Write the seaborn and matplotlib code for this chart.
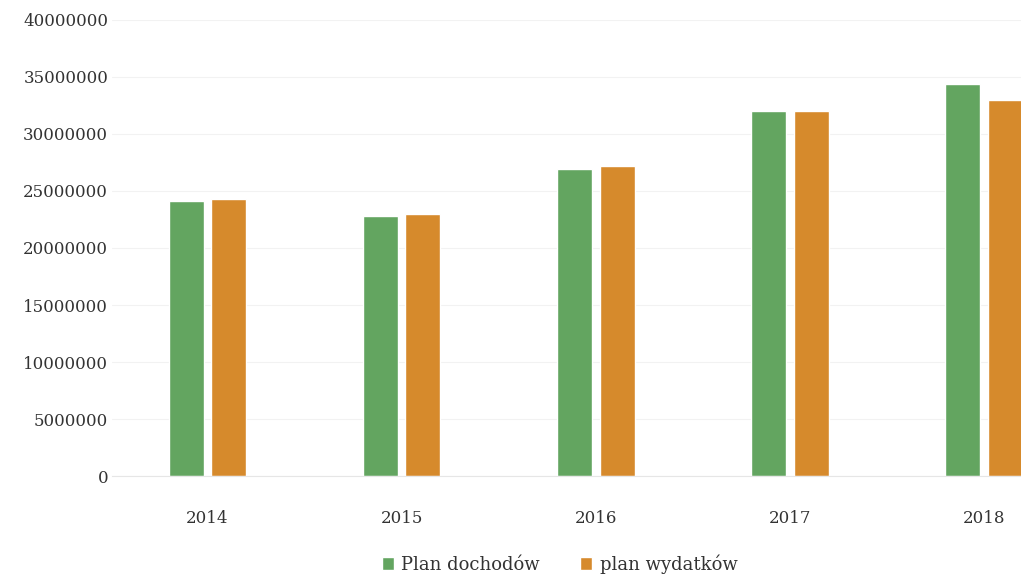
import pandas as pd
import matplotlib.pyplot as plt
import seaborn as sns

# Values (PLN)
years = ['2014', '2015', '2016', '2017', '2018']
plan_dochodow = [24100000, 22800000, 26900000, 32000000, 34400000]
plan_wydatkow = [24300000, 23000000, 27200000, 32000000, 33000000]
series_names = ['Plan dochodów', 'plan wydatków']
colors = ['#63a560', '#d68a2c']

df = pd.DataFrame({
    'rok': years * 2,
    'kwota': plan_dochodow + plan_wydatkow,
    'seria': [series_names[0]] * len(years) + [series_names[1]] * len(years),
})

sns.set_style('white')
plt.rcParams['font.family'] = ['DejaVu Serif']

fig = plt.figure(figsize=(10.21, 5.8), dpi=100)
ax = fig.add_axes([0.11, 0.179, 0.89, 0.787])

sns.barplot(data=df, x='rok', y='kwota', hue='seria', palette=colors,
            width=0.44, gap=0.18, ax=ax, saturation=1, legend=True)

ax.set_ylim(0, 40000000)
ax.set_xlim(-0.49, 4.19)
ax.set_yticks(range(0, 40000001, 5000000))
ax.set_yticklabels([str(v) for v in range(0, 40000001, 5000000)])
ax.yaxis.grid(True, color='#f2f2f2', linewidth=0.8)
ax.set_axisbelow(True)
for s in ['top', 'right', 'left']:
    ax.spines[s].set_visible(False)
ax.spines['bottom'].set_color('#e6e6e6')
ax.tick_params(axis='y', length=0, pad=3, labelsize=12, labelcolor='#333333')
ax.tick_params(axis='x', length=0, pad=24, labelsize=12, labelcolor='#333333')
ax.set_xlabel('')
ax.set_ylabel('')

handles, labels = ax.get_legend_handles_labels()
ax.get_legend().remove()
fig.legend(handles, labels, loc='center', bbox_to_anchor=(0.548, 0.027), ncol=2,
           frameon=False, fontsize=13, handlelength=0.7, handleheight=0.7,
           handletextpad=0.4, columnspacing=2.2, labelcolor='#333333')

fig.savefig('out.png', dpi=100)
